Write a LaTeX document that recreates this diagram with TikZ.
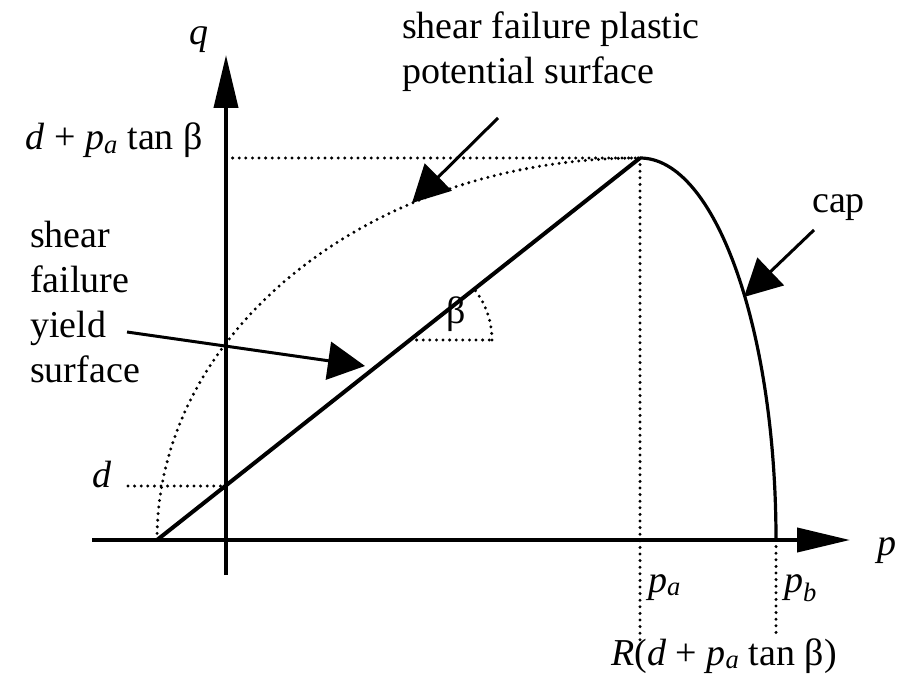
\documentclass[tikz,border=0pt]{standalone}
\usepackage{fontspec}
\setmainfont{Liberation Serif}
\usetikzlibrary{arrows.meta}
\pgfdeclarelayer{edgelayer}
\pgfdeclarelayer{nodelayer}
\pgfsetlayers{edgelayer,nodelayer,main}
\tikzstyle{axis}=[draw=black, line width=4pt, -{Triangle[length=53pt,width=24pt]}]
\tikzstyle{surf}=[draw=black, line width=4pt]
\tikzstyle{guide}=[draw=black, line width=3.3pt, line cap=round, dash pattern=on 0pt off 6.6pt]
\tikzstyle{pointer}=[draw=black, line width=3pt, -{Triangle[length=37pt,width=38pt]}]
\tikzstyle{lbl}=[inner sep=0pt, font=\fontsize{38}{45}\selectfont]

\begin{document}
\begin{tikzpicture}[x=1pt, y=-1pt]
				\useasboundingbox (0,0) rectangle (899,679);
				\begin{pgfonlayer}{nodelayer}
					\coordinate (xl) at (92,540);
					\coordinate (xr) at (850,540);
					\coordinate (yb) at (226,575);
					\coordinate (yt) at (226,55);
					\coordinate (s) at (157,540);
					\coordinate (pk) at (640,158);
					\coordinate (pb) at (776,540);
					\coordinate (ytop) at (226,158);
					\coordinate (yd) at (226,486);
					\coordinate (dl) at (128,486);
					\coordinate (pad) at (640,640);
					\coordinate (pbd) at (776,637);
					\coordinate (bs) at (410,340);
					\coordinate (be) at (492,340);
					\coordinate (t1) at (498,118);
					\coordinate (h1) at (412,203);
					\coordinate (t2) at (127,332);
					\coordinate (h2) at (365,366);
					\coordinate (t3) at (814,230);
					\coordinate (h3) at (744,297);
					\node [style=lbl, anchor=base] (q) at (199,45) {\textit{q}};
					\node [style=lbl, anchor=base west] (p) at (877,555) {\textit{p}};
					\node [style=lbl, anchor=base east] (qmax) at (203,150) {\textit{d} + \textit{p}\textsubscript{\textit{a}} tan β};
					\node [style=lbl, anchor=base east] (d) at (112,487) {\textit{d}};
					\node [style=lbl, anchor=base west] (pa) at (648,592) {\textit{p}\textsubscript{\textit{a}}};
					\node [style=lbl, anchor=base west] (pbl) at (784,592) {\textit{p}\textsubscript{\textit{b}}};
					\node [style=lbl, anchor=base east] (R) at (837,665) {\textit{R}(\textit{d} + \textit{p}\textsubscript{\textit{a}} tan β)};
					\node [style=lbl] (beta) at (456,314) {β};
					\node [style=lbl, anchor=base west] (cap) at (812,212) {cap};
					\node [style=lbl, anchor=north west, align=left] (plast) at (402,12) {shear failure plastic\\potential surface};
					\node [style=lbl, anchor=north west, align=left] (yield) at (30,221) {shear\\failure\\yield\\surface};
				\end{pgfonlayer}
				\begin{pgfonlayer}{edgelayer}
					\draw [style=guide] (ytop) to (pk);
					\draw [style=guide] (pk) to (pad);
					\draw [style=guide] (pb) to (pbd);
					\draw [style=guide] (dl) to (yd);
					\draw [style=guide] (s) arc [start angle=180, end angle=270, x radius=483, y radius=382];
					\draw [style=guide] (bs) to (be);
					\draw [style=guide] (be) arc [start angle=0, end angle=-38.3, radius=82];
					\draw [style=axis] (xl) to (xr);
					\draw [style=axis] (yb) to (yt);
					\draw [style=surf] (s) to (pk);
					\draw [style=surf, line width=3.2pt] (pk) arc [start angle=270, end angle=360, x radius=136, y radius=382];
					\draw [style=pointer] (t1) to (h1);
					\draw [style=pointer] (t2) to (h2);
					\draw [style=pointer] (t3) to (h3);
				\end{pgfonlayer}
			\end{tikzpicture}
\end{document}
